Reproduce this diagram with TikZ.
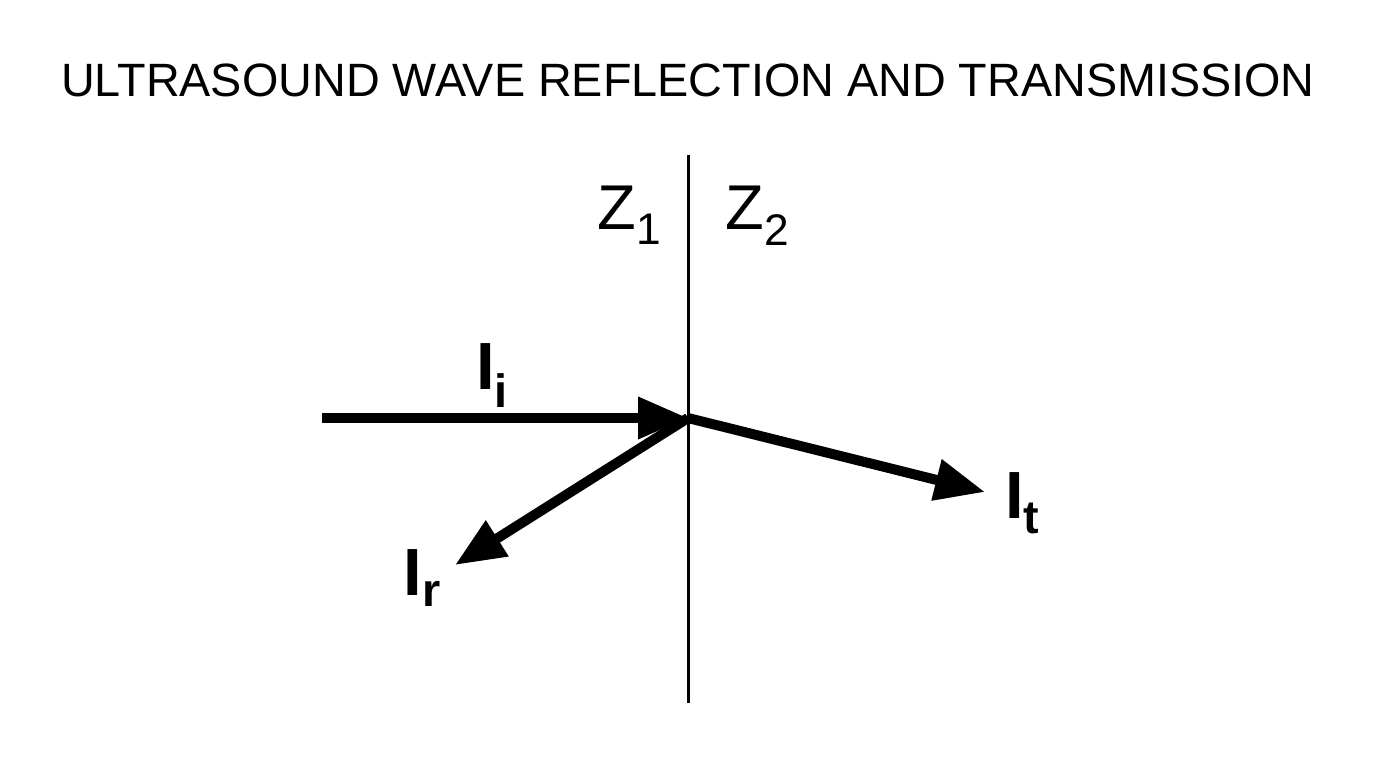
\documentclass[tikz,border=0pt]{standalone}
\usepackage{fontspec}
\setmainfont{Liberation Sans}
\usetikzlibrary{arrows.meta}
\tikzset{
    wave/.style={line width=0.2cm,-{Triangle[length=1.0cm,width=0.8cm]}},
    lbl/.style={font=\fontsize{38}{42}\selectfont\bfseries},
    zlbl/.style={font=\fontsize{36}{40}\selectfont}
}
\begin{document}
\begin{tikzpicture}
\useasboundingbox (0,0) rectangle (27.52,15.36);
    \node (title) at (13.76,13.76) {\fontsize{26.6}{30}\selectfont ULTRASOUND WAVE REFLECTION AND TRANSMISSION};
    % boundary between media
    \coordinate (top) at (13.76,12.26);
    \coordinate (bot) at (13.76,1.30);
    \coordinate (hit) at (13.76,7.0);
    \draw[line width=0.06cm] (top) -- (bot);
    \node[zlbl] (z1) at (12.6,11.05) {Z\textsubscript{1}};
    \node[zlbl] (z2) at (15.15,11.05) {Z\textsubscript{2}};
    % waves
    \coordinate (src) at (6.44,7.0);
    \coordinate (rend) at (9.1,4.06);
    \coordinate (tend) at (19.7,5.52);
    \draw[wave] (src) -- (hit);
    \draw[wave] (hit) -- (rend);
    \draw[wave] (hit) -- (tend);
    \node[lbl] (ii) at (9.85,7.85) {I\textsubscript{i}};
    \node[lbl] (ir) at (8.45,3.8) {I\textsubscript{r}};
    \node[lbl] (it) at (20.45,5.3) {I\textsubscript{t}};
\end{tikzpicture}
\end{document}
